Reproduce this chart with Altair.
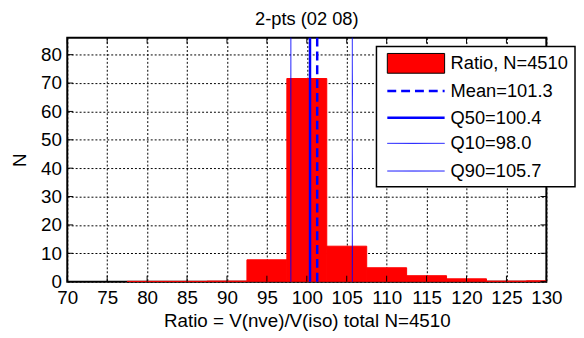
import altair as alt
import pandas as pd

# ---- data ----
bin_centers = [80, 85, 90, 95, 100, 105, 110, 115, 120, 125, 130]
counts = [0.1, 0.1, 0.2, 7.7, 71.6, 12.5, 4.9, 2.1, 1.0, 0.2, 0.3]
bin_width = 5
n_total = 4510

stat_names = ["Mean", "Q50", "Q10", "Q90"]
stat_values = [101.3, 100.4, 98.0, 105.7]

x_ticks = [70, 75, 80, 85, 90, 95, 100, 105, 110, 115, 120, 125, 130]
y_ticks = [0, 10, 20, 30, 40, 50, 60, 70, 80]
x_domain = [70, 130]
y_domain = [0, 86]

chart_title = "2-pts (02 08)"
x_title = f"Ratio = V(nve)/V(iso) total N={n_total}"
y_title = "N"

# ---- styles ----
FONT = "Liberation Sans"
W, H = 485, 247
BLUE = "#0000ff"
RED = "#ff0000"
stat_widths = [2.5, 2.5, 1.0, 1.0]
stat_dashes = [[9, 5], [1, 0], [1, 0], [1, 0]]

hist = pd.DataFrame({
    "lo": [c - bin_width / 2 for c in bin_centers],
    "hi": [c + bin_width / 2 for c in bin_centers],
    "n": counts,
})

common_axis = dict(grid=True, ticks=False, tickSize=0, domain=False,
                   labelFont=FONT, titleFont=FONT, labelFontSize=19, titleFontSize=19,
                   labelColor="black", titleColor="black", titleFontWeight="normal",
                   gridColor="black", gridOpacity=1, gridWidth=1, gridDash=[2, 2])

xs = alt.Scale(domain=x_domain, nice=False, zero=False)
ys = alt.Scale(domain=y_domain, nice=False, zero=True)
x_axis = alt.Axis(title=x_title, values=x_ticks, labelPadding=7, titlePadding=4,
                  labelFlush=False, **common_axis)
y_axis = alt.Axis(title=y_title, values=y_ticks, labelPadding=6, titlePadding=11, **common_axis)

bars = alt.Chart(hist).mark_bar(color=RED, stroke=RED, strokeWidth=1, clip=True).encode(
    x=alt.X("lo:Q", scale=xs, axis=x_axis, title=x_title),
    x2="hi:Q",
    y=alt.Y("n:Q", scale=ys, axis=y_axis, title=y_title),
    y2=alt.datum(0),
)

layers = [bars]

for name, val, w, d in zip(stat_names, stat_values, stat_widths, stat_dashes):
    df = pd.DataFrame({"lo": [val]})
    layers.append(
        alt.Chart(df).mark_rule(color=BLUE, strokeWidth=w, strokeDash=d).encode(
            x=alt.X("lo:Q", scale=xs, axis=x_axis, title=x_title)
        )
    )

# inward ticks on all four sides
xt = pd.DataFrame({"lo": x_ticks})
yt = pd.DataFrame({"n": y_ticks})
tick_len = 6
layers.append(alt.Chart(xt).mark_rule(color="black", strokeWidth=1).encode(
    x=alt.X("lo:Q", scale=xs, axis=x_axis, title=x_title), y=alt.value(H), y2=alt.value(H - tick_len)))
layers.append(alt.Chart(xt).mark_rule(color="black", strokeWidth=1).encode(
    x=alt.X("lo:Q", scale=xs, axis=x_axis, title=x_title), y=alt.value(0), y2=alt.value(tick_len)))
layers.append(alt.Chart(yt).mark_rule(color="black", strokeWidth=1).encode(
    y=alt.Y("n:Q", scale=ys, axis=y_axis, title=y_title), x=alt.value(0), x2=alt.value(tick_len)))
layers.append(alt.Chart(yt).mark_rule(color="black", strokeWidth=1).encode(
    y=alt.Y("n:Q", scale=ys, axis=y_axis, title=y_title), x=alt.value(W), x2=alt.value(W - tick_len)))

# legend (drawn as a boxed key)
one = pd.DataFrame({"a": [0]})
box_l, box_t, box_r, box_b = 313, 9, 514, 151
sym_l, sym_r, txt_x = 324, 382, 388
row_y = [26, 54, 81, 107, 135]
layers.append(alt.Chart(one).mark_rect(fill="white", stroke="black", strokeWidth=1.5).encode(
    x=alt.value(box_l), x2=alt.value(box_r), y=alt.value(box_t), y2=alt.value(box_b)))
layers.append(alt.Chart(one).mark_rect(fill=RED, stroke="black", strokeWidth=1).encode(
    x=alt.value(sym_l), x2=alt.value(sym_r), y=alt.value(row_y[0] - 10), y2=alt.value(row_y[0] + 10)))
layers.append(alt.Chart(one).mark_text(align="left", baseline="middle", font=FONT, fontSize=18.5,
                                       color="black").encode(
    x=alt.value(txt_x), y=alt.value(row_y[0]), text=alt.value(f"Ratio, N={n_total}")))
for i, (name, val, w, d) in enumerate(zip(stat_names, stat_values, stat_widths, stat_dashes)):
    ry = row_y[i + 1]
    layers.append(alt.Chart(one).mark_rule(color=BLUE, strokeWidth=w, strokeDash=d).encode(
        x=alt.value(sym_l), x2=alt.value(sym_r), y=alt.value(ry)))
    layers.append(alt.Chart(one).mark_text(align="left", baseline="middle", font=FONT, fontSize=18.5,
                                           color="black").encode(
        x=alt.value(txt_x), y=alt.value(ry), text=alt.value(f"{name}={val:.1f}")))

chart = alt.layer(*layers).properties(
    width=W, height=H,
    title=alt.TitleParams(chart_title, font=FONT, fontSize=18.5, fontWeight="normal",
                          anchor="middle", color="black", offset=8),
    autosize=alt.AutoSizeParams(type="none"),
    padding={"left": 60, "top": 28, "right": 30, "bottom": 54},
    background="white",
).configure_view(
    stroke="black", strokeWidth=2
)

chart.save("out.html", embed_options={"renderer": "svg", "actions": False})
